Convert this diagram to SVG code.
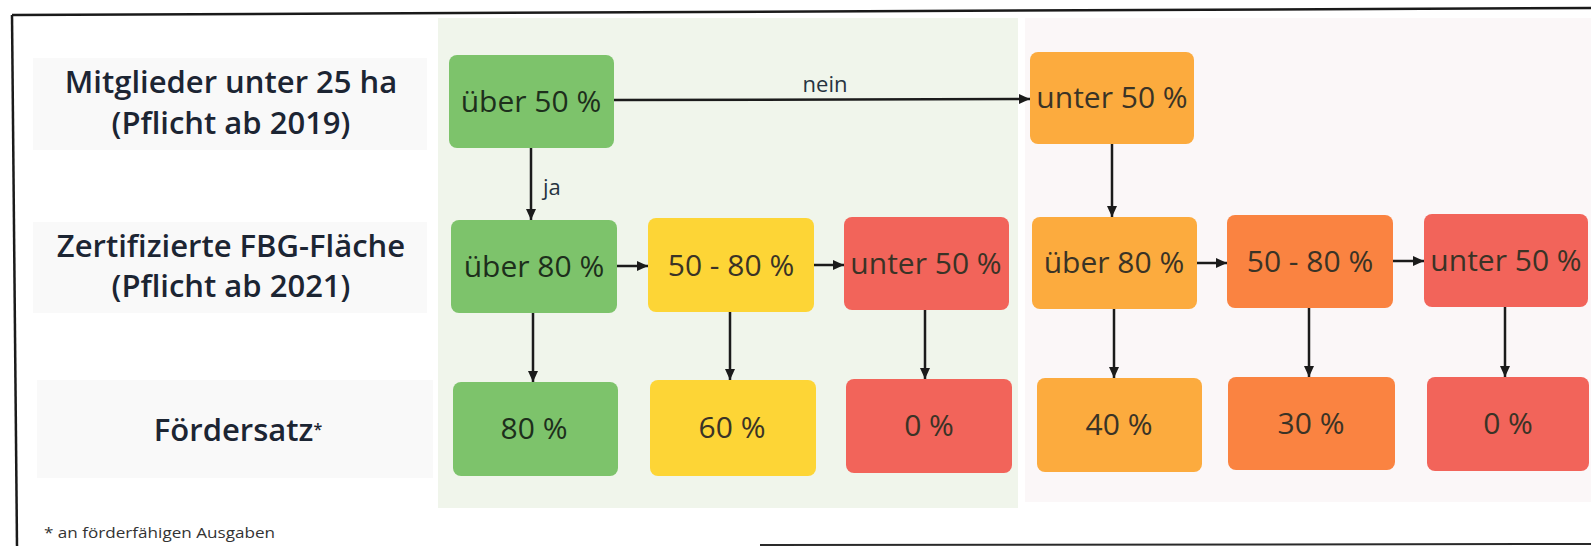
<svg xmlns="http://www.w3.org/2000/svg" width="1591" height="546" viewBox="0 0 1591 546">
<defs>
<marker id="ah" markerUnits="userSpaceOnUse" markerWidth="12" markerHeight="12" viewBox="0 0 12 12" refX="11" refY="6" orient="auto">
<path d="M0,1 L11,6 L0,11 z" fill="#1b1b1b"/>
</marker>
<style>
.lbl{font-family:"Open Sans","Liberation Sans",sans-serif;font-weight:600;font-size:31px;fill:#1c2533;text-anchor:middle}
.bx{font-family:"Open Sans","Liberation Sans",sans-serif;font-size:30px;text-anchor:middle;fill:#3a3326}
.gt{fill:#1d2f1c}
.con{stroke:#1b1b1b;stroke-width:2.5;fill:none;marker-end:url(#ah)}
.cl{font-family:"Open Sans","Liberation Sans",sans-serif;font-size:22px;fill:#26333f}
.green{fill:#7dc36b}
.yellow{fill:#fdd536}
.red{fill:#f2645a}
.orl{fill:#fcab3e}
.ord{fill:#fa8341}
.lp{fill:#f9f9f9}
</style>
</defs>
<rect x="0" y="0" width="1591" height="546" fill="#ffffff"/>
<!-- panels -->
<rect x="438" y="18" width="580" height="490" fill="#f0f5eb"/>
<rect x="1025" y="18" width="566" height="484" fill="#fbf7f8"/>
<!-- frame -->
<path d="M12,15 L1591,8" stroke="#1a1a1a" stroke-width="2.5" fill="none"/>
<path d="M12,15 L17,546" stroke="#1a1a1a" stroke-width="2.5" fill="none"/>
<path d="M760,545 L1591,544" stroke="#2a2a2a" stroke-width="2" fill="none"/>
<!-- row labels -->
<g id="label-mitglieder">
<rect class="lp" x="33" y="58" width="394" height="92"/>
<text class="lbl" x="231" y="93">Mitglieder unter 25 ha</text>
<text class="lbl" x="231" y="134">(Pflicht ab 2019)</text>
</g>
<g id="label-flaeche">
<rect class="lp" x="33" y="222" width="394" height="91"/>
<text class="lbl" x="231" y="257">Zertifizierte FBG-Fläche</text>
<text class="lbl" x="231" y="297">(Pflicht ab 2021)</text>
</g>
<g id="label-foerdersatz">
<rect class="lp" x="37" y="380" width="396" height="98"/>
<text class="lbl" x="238" y="441" font-weight="500">Fördersatz<tspan font-size="16" dy="-6">*</tspan></text>
</g>
<g id="footnote">
<text x="44" y="538" font-family="'Open Sans','Liberation Sans',sans-serif" font-size="15" fill="#333" textLength="231" lengthAdjust="spacingAndGlyphs">* an förderfähigen Ausgaben</text>
</g>
<!-- connectors -->
<g id="connectors">
<line class="con" x1="614" y1="100" x2="1030" y2="99"/>
<text class="cl" x="825" y="92" text-anchor="middle">nein</text>
<line class="con" x1="531" y1="148" x2="531" y2="220"/>
<text class="cl" x="543" y="195">ja</text>
<line class="con" x1="617" y1="266" x2="648" y2="266"/>
<line class="con" x1="814" y1="265" x2="844" y2="265"/>
<line class="con" x1="1112" y1="144" x2="1112" y2="217"/>
<line class="con" x1="1197" y1="263" x2="1227" y2="263"/>
<line class="con" x1="1393" y1="261" x2="1424" y2="261"/>
<line class="con" x1="533" y1="313" x2="533" y2="382"/>
<line class="con" x1="730" y1="312" x2="730" y2="380"/>
<line class="con" x1="925" y1="310" x2="925" y2="379"/>
<line class="con" x1="1114" y1="309" x2="1114" y2="378"/>
<line class="con" x1="1309" y1="308" x2="1309" y2="377"/>
<line class="con" x1="1505" y1="307" x2="1505" y2="377"/>
</g>
<!-- row 1 -->
<g id="n-a1"><rect class="green" x="449" y="55" width="165" height="93" rx="8"/><text class="bx gt" x="531" y="112">über 50 %</text></g>
<g id="n-d1"><rect class="orl" x="1030" y="52" width="164" height="92" rx="8"/><text class="bx" x="1112" y="108">unter 50 %</text></g>
<!-- row 2 -->
<g id="n-a2"><rect class="green" x="451" y="220" width="166" height="93" rx="8"/><text class="bx gt" x="534" y="277">über 80 %</text></g>
<g id="n-b2"><rect class="yellow" x="648" y="218" width="166" height="94" rx="8"/><text class="bx" x="731" y="276">50 - 80 %</text></g>
<g id="n-c2"><rect class="red" x="844" y="217" width="165" height="93" rx="8"/><text class="bx" x="926" y="274">unter 50 %</text></g>
<g id="n-d2"><rect class="orl" x="1032" y="217" width="165" height="92" rx="8"/><text class="bx" x="1114" y="273">über 80 %</text></g>
<g id="n-e2"><rect class="ord" x="1227" y="215" width="166" height="93" rx="8"/><text class="bx" x="1310" y="272">50 - 80 %</text></g>
<g id="n-f2"><rect class="red" x="1424" y="214" width="164" height="93" rx="8"/><text class="bx" x="1506" y="271">unter 50 %</text></g>
<!-- row 3 -->
<g id="n-a3"><rect class="green" x="453" y="382" width="165" height="94" rx="8"/><text class="bx gt" x="534" y="439">80 %</text></g>
<g id="n-b3"><rect class="yellow" x="650" y="380" width="166" height="96" rx="8"/><text class="bx" x="732" y="438">60 %</text></g>
<g id="n-c3"><rect class="red" x="846" y="379" width="166" height="94" rx="8"/><text class="bx" x="929" y="436">0 %</text></g>
<g id="n-d3"><rect class="orl" x="1037" y="378" width="165" height="94" rx="8"/><text class="bx" x="1119" y="435">40 %</text></g>
<g id="n-e3"><rect class="ord" x="1228" y="377" width="167" height="93" rx="8"/><text class="bx" x="1311" y="434">30 %</text></g>
<g id="n-f3"><rect class="red" x="1427" y="377" width="162" height="94" rx="8"/><text class="bx" x="1508" y="434">0 %</text></g>
</svg>
